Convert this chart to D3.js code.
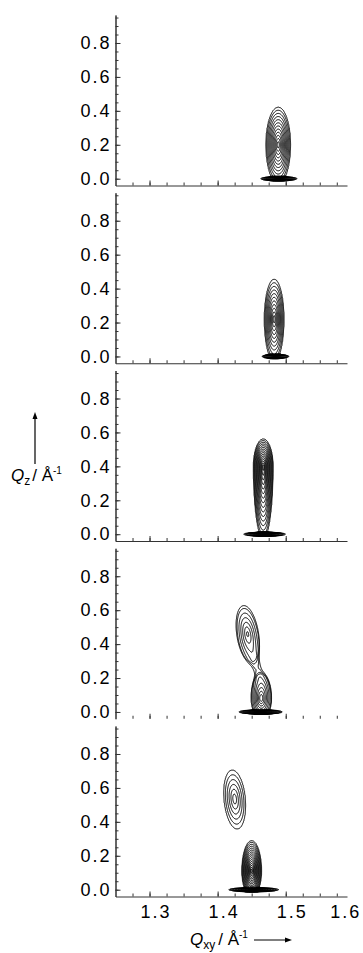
<!DOCTYPE html>
<html>
<head>
<meta charset="utf-8">
<script src="https://cdn.jsdelivr.net/npm/d3@7"></script>
<style>
body { margin: 0; background: #fff; }
svg text { font-family: "Liberation Sans", Arial, Helvetica, sans-serif; }
</style>
</head>
<body>
<div id="chart"></div>
<script>
// axis ticks
var xTickLabels = [1.3, 1.4, 1.5, 1.6];
var yTickLabels = [0.0, 0.2, 0.4, 0.6, 0.8];
var xDomain = [1.25, 1.59];
var yDomain = [-0.04, 0.965];

// diffraction peaks, one entry per peak (panel 0 = top)
// Qxy / Qz of the maximum, extent of the outermost contour, number of contour rings
var peakPanel     = [0,      1,      2,      3,      3,      3,      4,     4];
var peakQxy       = [1.489,  1.483,  1.467,  1.444,  1.458,  1.464,  1.425, 1.450];
var peakQz        = [0.20,   0.22,   0.40,   0.46,   0.26,   0.08,   0.535, 0.11];
var peakTop       = [0.422,  0.456,  0.562,  0.624,  0.325,  0.221,  0.706, 0.29];
var peakBottom    = [-0.03,  -0.03,  -0.03,  0.30,   0.20,   -0.04,  0.357, -0.04];
var peakHalfWidth = [0.0184, 0.0147, 0.0147, 0.0157, 0.0045, 0.0147, 0.016, 0.0147];
var peakTilt      = [0,      0,      0,      -0.032, -0.06,  0,      -0.02, 0];
var peakRings     = [12,     11,     16,     6,      0.5,    9,      6,     16];

// streak along the horizon (Qz = 0), one per panel
var horizonQxy       = [1.490, 1.485, 1.469, 1.463, 1.453];
var horizonHalfWidth = [0.027, 0.020, 0.031, 0.032, 0.037];
var horizonHalfThick = [0.013, 0.013, 0.013, 0.013, 0.013];
var horizonRings     = [16, 16, 16, 16, 16];

var ringRatio = 1.22;   // ratio between neighbouring contour levels
var qzCut = -0.014;     // no data below this

var margin = {left: 115.5, top: 15};
var panelW = 231.5, panelH = 170.5, panelStep = 177.75;

var svg = d3.select("#chart").append("svg")
    .attr("width", 363)
    .attr("height", 953);

var x = d3.scaleLinear().domain(xDomain).range([0, panelW]);
var y = d3.scaleLinear().domain(yDomain).range([panelH, 0]);

var nx = 340, ny = 260;
var dqx = (xDomain[1] - xDomain[0]) / nx;
var dqz = (yDomain[1] - yDomain[0]) / ny;
var lnR = Math.log(ringRatio);
var maxRings = d3.max(peakRings.concat(horizonRings)) + 6;
var thresholds = d3.range(0, maxRings).map(k => Math.pow(ringRatio, k));

// grid coords -> pixels through the scales
var path = d3.geoPath(d3.geoTransform({
    point: function(gx, gy) {
        this.stream.point(x(xDomain[0] + gx * dqx), y(yDomain[1] - gy * dqz));
    }
}));

function makePeak(cx, cz, halfW, top, bottom, tilt, rings) {
    var n = rings * lnR;
    return {cx: cx, cz: cz, sx: halfW / n, up: (top - cz) / n,
        down: (cz - bottom) / n, tilt: tilt, amp: Math.pow(ringRatio, rings), n: n};
}

function intensity(p) {
    var peaks = [];
    peakPanel.forEach(function(panel, i) {
        if (panel === p) {
            peaks.push(makePeak(peakQxy[i], peakQz[i], peakHalfWidth[i], peakTop[i],
                peakBottom[i], peakTilt[i], peakRings[i]));
        }
    });
    peaks.push(makePeak(horizonQxy[p], 0, horizonHalfWidth[p], horizonHalfThick[p],
        -horizonHalfThick[p], 0, horizonRings[p]));

    var values = new Float64Array(nx * ny);
    for (var j = 0; j < ny; j++) {
        var qz = yDomain[1] - (j + 0.5) * dqz;
        if (qz < qzCut) continue;
        for (var i = 0; i < nx; i++) {
            var qx = xDomain[0] + (i + 0.5) * dqx;
            var v = 0;
            peaks.forEach(function(pk) {
                var dz = qz - pk.cz;
                var dx = qx - (pk.cx + pk.tilt * dz);
                var sz = dz > 0 ? pk.up : pk.down;
                var rho = Math.sqrt((dx / pk.sx) * (dx / pk.sx) + (dz / sz) * (dz / sz));
                // steep fall-off outside the outermost ring so peaks don't bleed together
                if (rho > pk.n) rho = pk.n + 5 * (rho - pk.n);
                v += pk.amp * Math.exp(-rho);
            });
            values[j * nx + i] = v;
        }
    }
    return values;
}

var yMinor = d3.range(0, 20).map(k => k * 0.05);
var xMinor = d3.range(1, 14).map(k => 1.25 + k * 0.025);

d3.range(5).forEach(function(p) {
    var g = svg.append("g")
        .attr("transform", "translate(" + margin.left + "," + (margin.top + p * panelStep) + ")");

    var contours = d3.contours()
        .size([nx, ny])
        .thresholds(thresholds)(intensity(p));

    g.append("g")
        .selectAll("path")
        .data(contours)
        .join("path")
        .attr("d", path)
        .attr("fill", "none")
        .attr("stroke", "#000")
        .attr("stroke-width", 1);

    // y axis, ticks pointing inwards
    g.append("g")
        .attr("class", "y axis")
        .call(d3.axisLeft(y).tickValues(yMinor).tickSize(-3).tickSizeOuter(0).tickFormat(""));
    g.append("g")
        .attr("class", "y axis")
        .call(d3.axisLeft(y).tickValues(yTickLabels).tickSize(-5).tickSizeOuter(0)
            .tickPadding(4).tickFormat(d3.format(".1f")));

    // x axis
    var xg = g.append("g")
        .attr("class", "x axis")
        .attr("transform", "translate(0," + panelH + ")")
        .call(d3.axisBottom(x).tickValues(xMinor).tickSize(-3).tickSizeOuter(0).tickFormat(""));
    if (p === 3) xg.select(".domain").remove();   // baseline missing in the original

    if (p === 4) {
        var xl = g.append("g")
            .attr("class", "x axis")
            .attr("transform", "translate(0," + panelH + ")")
            .call(d3.axisBottom(x).tickValues(xTickLabels).tickSize(-5).tickSizeOuter(0)
                .tickPadding(9).tickFormat(d3.format(".1f")));
        xl.select(".domain").remove();
        xl.selectAll(".tick").filter(d => d > xDomain[1]).select("line").remove();
        xl.selectAll(".tick").filter(d => d > xDomain[1]).select("text")
            .attr("text-anchor", "end").attr("dx", 7);
        xl.selectAll(".tick").filter(d => d <= xDomain[1]).select("text").attr("dx", 6);
    } else {
        g.append("g")
            .attr("class", "x axis")
            .attr("transform", "translate(0," + panelH + ")")
            .call(d3.axisBottom(x).tickValues(xTickLabels.filter(d => d < xDomain[1]))
                .tickSize(-5).tickSizeOuter(0).tickFormat(""))
            .select(".domain").remove();
    }
});

svg.selectAll(".axis path, .axis line")
    .attr("stroke", "#333")
    .attr("stroke-width", 1);
svg.selectAll(".axis text")
    .attr("fill", "#000")
    .style("font-size", "18px")
    .style("letter-spacing", "2px");

// axis titles
var yTitle = svg.append("text")
    .attr("x", 11)
    .attr("y", 481)
    .style("font-size", "17px");
yTitle.append("tspan").style("font-style", "italic").text("Q");
yTitle.append("tspan").attr("dy", 4).style("font-size", "12px").text("z");
yTitle.append("tspan").attr("dy", -4).attr("dx", 2).text("/ Å");
yTitle.append("tspan").attr("dy", -7).style("font-size", "10px").text("-1");

svg.append("line")
    .attr("x1", 35).attr("x2", 35)
    .attr("y1", 464).attr("y2", 418)
    .attr("stroke", "#000").attr("stroke-width", 1.2);
svg.append("path")
    .attr("d", "M32.5,419 L35,412 L37.5,419 Z")
    .attr("fill", "#000");

var xTitle = svg.append("text")
    .attr("x", 190)
    .attr("y", 945)
    .style("font-size", "17px");
xTitle.append("tspan").style("font-style", "italic").text("Q");
xTitle.append("tspan").attr("dy", 4).style("font-size", "12px").text("xy");
xTitle.append("tspan").attr("dy", -4).attr("dx", 3).text("/ Å");
xTitle.append("tspan").attr("dy", -7).style("font-size", "10px").text("-1");

svg.append("line")
    .attr("x1", 254).attr("x2", 287)
    .attr("y1", 940).attr("y2", 940)
    .attr("stroke", "#000").attr("stroke-width", 1);
svg.append("path")
    .attr("d", "M285,937.5 L292,940 L285,942.5 Z")
    .attr("fill", "#000");
</script>
</body>
</html>
